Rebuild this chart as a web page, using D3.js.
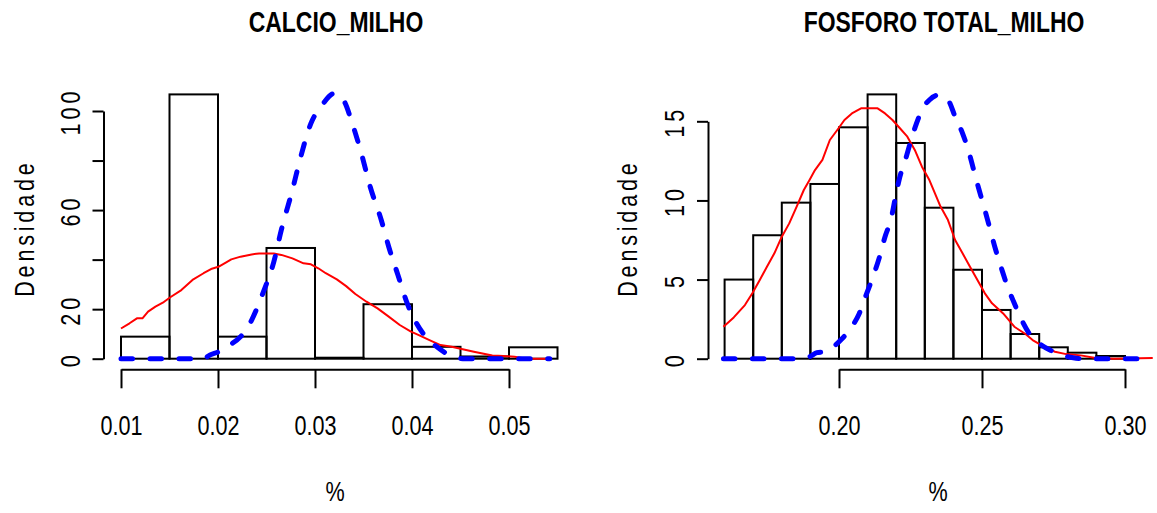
<!DOCTYPE html>
<html>
<head>
<meta charset="utf-8">
<script src="https://cdn.jsdelivr.net/npm/d3@7"></script>
<style>
  html, body { margin: 0; padding: 0; background: #ffffff; }
  svg { display: block; }
</style>
</head>
<body>
<svg id="chart" width="1157" height="513"></svg>
<script>
// ---- Histogram data (density per bin) ----
const calcioBreaks  = [0.010, 0.015, 0.020, 0.025, 0.030, 0.035, 0.040, 0.045, 0.050, 0.055];
const calcioDensity = [8.9, 106.7, 8.9, 44.7, 0.4, 22.0, 4.8, 0.9, 4.6];

const fosforoBreaks  = [0.16, 0.17, 0.18, 0.19, 0.20, 0.21, 0.22, 0.23, 0.24, 0.25, 0.26, 0.27, 0.28, 0.29, 0.30];
const fosforoDensity = [5.0, 7.8, 9.86, 11.04, 14.62, 16.7, 13.63, 9.54, 5.62, 3.08, 1.56, 0.72, 0.38, 0.17];

// ---- Kernel density of the observed values (red) ----
const calcioKde = [
  [0.01000, 12.2], [0.01088, 14.3], [0.01164, 16.3], [0.01221, 16.3], [0.01279, 19.0],
  [0.01355, 21.0], [0.01431, 22.6], [0.01508, 24.8], [0.01622, 27.7], [0.01737, 31.8],
  [0.01851, 34.5], [0.01928, 36.2], [0.02004, 37.1], [0.02080, 38.8], [0.02137, 40.1],
  [0.02233, 41.2], [0.02347, 42.1], [0.02424, 42.5], [0.02576, 42.5], [0.02653, 41.9],
  [0.02767, 40.5], [0.02882, 38.5], [0.02958, 38.1], [0.03034, 36.5], [0.03111, 34.5],
  [0.03225, 32.0], [0.03321, 29.3], [0.03416, 26.1], [0.03531, 23.0], [0.03645, 20.3],
  [0.03760, 17.0], [0.03874, 13.6], [0.03989, 10.9], [0.04065, 9.6], [0.04180, 7.5],
  [0.04294, 5.5], [0.04409, 4.8], [0.04523, 3.8], [0.04638, 2.8], [0.04714, 2.2],
  [0.04828, 1.3], [0.04943, 1.1], [0.05057, 0.8], [0.05134, 0.3], [0.05248, 0.0],
  [0.05420, 0.0]
];
const fosforoKde = [
  [0.1596, 2.02], [0.1632, 2.61], [0.1671, 3.39], [0.1697, 4.13], [0.1723, 4.97],
  [0.1748, 5.81], [0.1774, 6.66], [0.1800, 7.71], [0.1826, 8.55], [0.1852, 9.61],
  [0.1877, 10.66], [0.1897, 11.29], [0.1916, 11.92], [0.1942, 12.56], [0.1968, 13.82],
  [0.1994, 14.45], [0.2019, 15.08], [0.2045, 15.50], [0.2077, 15.82], [0.2135, 15.82],
  [0.2161, 15.50], [0.2187, 15.08], [0.2213, 14.56], [0.2239, 14.03], [0.2265, 13.19],
  [0.2290, 12.13], [0.2316, 11.29], [0.2355, 9.61], [0.2381, 8.76], [0.2406, 7.50],
  [0.2432, 6.66], [0.2458, 5.81], [0.2484, 4.97], [0.2510, 4.13], [0.2535, 3.50],
  [0.2574, 2.86], [0.2613, 2.02], [0.2652, 1.56], [0.2677, 1.18], [0.2716, 0.76],
  [0.2755, 0.44], [0.2794, 0.29], [0.2845, 0.21], [0.2897, 0.04], [0.2961, 0.00],
  [0.3097, 0.04]
];

// ---- Reference curve (blue, dashed) ----
const calcioRef = [
  [0.01000, 0.0], [0.01870, 0.0], [0.01890, 0.8], [0.02004, 2.8], [0.02118, 5.5],
  [0.02233, 8.9], [0.02347, 15.6], [0.02462, 26.4], [0.02576, 39.2], [0.02653, 52.0],
  [0.02767, 68.1], [0.02844, 80.2], [0.02958, 95.0], [0.03073, 102.4], [0.03199, 107.1],
  [0.03302, 103.8], [0.03378, 95.7], [0.03473, 83.6], [0.03569, 69.4], [0.03683, 56.0],
  [0.03760, 45.2], [0.03855, 33.8], [0.03951, 22.3], [0.04046, 14.3], [0.04141, 8.9],
  [0.04256, 4.8], [0.04409, 1.1], [0.04523, 0.0], [0.05420, 0.0]
];
const fosforoRef = [
  [0.1596, 0.00], [0.1865, 0.00], [0.1897, 0.13], [0.1923, 0.38], [0.1948, 0.44],
  [0.1981, 0.76], [0.2006, 1.18], [0.2045, 2.02], [0.2071, 2.86], [0.2097, 4.13],
  [0.2123, 5.39], [0.2142, 6.45], [0.2161, 7.71], [0.2181, 8.76], [0.2200, 10.45],
  [0.2213, 11.50], [0.2232, 12.56], [0.2252, 13.82], [0.2271, 14.87], [0.2290, 15.72],
  [0.2316, 16.35], [0.2348, 16.66], [0.2381, 16.35], [0.2406, 15.29], [0.2432, 14.24],
  [0.2452, 13.19], [0.2471, 11.92], [0.2490, 10.66], [0.2510, 9.40], [0.2529, 8.13],
  [0.2548, 6.87], [0.2568, 5.71], [0.2587, 4.66], [0.2613, 3.50], [0.2639, 2.44],
  [0.2665, 1.60], [0.2703, 0.93], [0.2742, 0.51], [0.2781, 0.21], [0.2819, 0.06],
  [0.2858, 0.00], [0.3065, 0.00]
];

// ---- Axis ticks ----
const calcioXTicks  = [0.01, 0.02, 0.03, 0.04, 0.05];
const calcioYTicks  = [0, 20, 40, 60, 80, 100];
const calcioYLabels = [0, 20, 60, 100];
const fosforoXTicks = [0.20, 0.25, 0.30];
const fosforoYTicks = [0, 5, 10, 15];
const fosforoYLabels = [0, 5, 10, 15];

const FONT = "'Liberation Sans Narrow', 'Liberation Sans', Arial, sans-serif";
const FONT_BOLD = "'Liberation Sans', Arial, sans-serif";
const svg = d3.select("#chart");

const panels = [
  {
    title: "CALCIO_MILHO", titleX: 336,
    breaks: calcioBreaks, density: calcioDensity, kde: calcioKde, ref: calcioRef,
    x: d3.scaleLinear().domain([0.01, 0.05]).range([121, 509]),
    y: d3.scaleLinear().domain([0, 100]).range([358.7, 111]),
    xTicks: calcioXTicks, yTicks: calcioYTicks, yLabels: calcioYLabels,
    xFmt: d3.format(".2f"), axisX: 103.5, clip: [103.5, 575],
    ylabX: 23, xlabX: 335
  },
  {
    title: "FOSFORO TOTAL_MILHO", titleX: 944,
    breaks: fosforoBreaks, density: fosforoDensity, kde: fosforoKde, ref: fosforoRef,
    x: d3.scaleLinear().domain([0.20, 0.30]).range([839, 1125]),
    y: d3.scaleLinear().domain([0, 15]).range([358.7, 121.3]),
    xTicks: fosforoXTicks, yTicks: fosforoYTicks, yLabels: fosforoYLabels,
    xFmt: d3.format(".2f"), axisX: 708, clip: [708, 1157],
    ylabX: 626, xlabX: 938
  }
];

panels.forEach((p, i) => {
  const g = svg.append("g");

  // clip region for the density curves (plot area)
  const clipId = "plotclip" + i;
  svg.append("clipPath").attr("id", clipId)
    .append("rect")
    .attr("x", p.clip[0]).attr("y", 60)
    .attr("width", p.clip[1] - p.clip[0]).attr("height", 310);

  // histogram bars
  const bins = p.density.map((d, k) => ({ x0: p.breaks[k], x1: p.breaks[k + 1], d }));
  g.selectAll("rect.bar").data(bins).join("rect")
    .attr("class", "bar")
    .attr("x", b => p.x(b.x0))
    .attr("width", b => p.x(b.x1) - p.x(b.x0))
    .attr("y", b => p.y(b.d))
    .attr("height", b => p.y(0) - p.y(b.d))
    .attr("fill", "none")
    .attr("stroke", "#000")
    .attr("stroke-width", 2);

  const line = d3.line().x(d => p.x(d[0])).y(d => p.y(d[1]));

  // observed density (red)
  g.append("path")
    .attr("clip-path", `url(#${clipId})`)
    .attr("d", line.curve(d3.curveLinear)(p.kde))
    .attr("fill", "none")
    .attr("stroke", "#ff0000")
    .attr("stroke-width", 2)
    .attr("stroke-linejoin", "round");

  // reference curve (blue dashed)
  g.append("path")
    .attr("clip-path", `url(#${clipId})`)
    .attr("d", line.curve(d3.curveMonotoneX)(p.ref))
    .attr("fill", "none")
    .attr("stroke", "#0000ff")
    .attr("stroke-width", 5)
    .attr("stroke-linecap", "round")
    .attr("stroke-dasharray", "11.5,17.5");

  // x axis
  const xAxis = d3.axisBottom(p.x)
    .tickValues(p.xTicks)
    .tickSizeInner(19).tickSizeOuter(0)
    .tickFormat(p.xFmt);
  const gx = g.append("g").attr("transform", "translate(0,369.3)").call(xAxis);
  gx.selectAll("path, line").attr("stroke", "#000").attr("stroke-width", 2);
  gx.selectAll("text")
    .attr("y", 65.5).attr("dy", 0)
    .attr("fill", "#000")
    .attr("font-family", FONT).attr("font-size", 27)
    .attr("text-anchor", "middle")
    .attr("transform", "scale(0.8,1)")
    .attr("x", 0);

  // y axis
  const yAxis = d3.axisLeft(p.y)
    .tickValues(p.yTicks)
    .tickSizeInner(11).tickSizeOuter(0)
    .tickFormat(v => p.yLabels.includes(v) ? String(v) : "");
  const gy = g.append("g").attr("transform", `translate(${p.axisX},0)`).call(yAxis);
  gy.selectAll("path, line").attr("stroke", "#000").attr("stroke-width", 2);
  gy.selectAll("text")
    .attr("x", 0).attr("dy", 0)
    .attr("fill", "#000")
    .attr("font-family", FONT).attr("font-size", 27)
    .attr("text-anchor", "middle")
    .attr("letter-spacing", 5)
    .attr("transform", "translate(-24,0) rotate(-90) scale(0.8,1)");

  // title
  svg.append("text")
    .attr("transform", `translate(${p.titleX},32) scale(0.765,1)`)
    .attr("text-anchor", "middle")
    .attr("font-family", FONT_BOLD).attr("font-weight", "bold").attr("font-size", 30)
    .attr("fill", "#000")
    .text(p.title);

  // x axis title
  svg.append("text")
    .attr("transform", `translate(${p.xlabX},501) scale(0.8,1)`)
    .attr("text-anchor", "middle")
    .attr("font-family", FONT).attr("font-size", 27)
    .attr("fill", "#000")
    .text("%");

  // y axis title
  svg.append("text")
    .attr("transform", `translate(${p.ylabX + 11},230) rotate(-90) scale(0.8,1)`)
    .attr("text-anchor", "middle")
    .attr("font-family", FONT).attr("font-size", 27)
    .attr("fill", "#000")
    .attr("textLength", 167).attr("lengthAdjust", "spacing")
    .text("Densidade");
});
</script>
</body>
</html>
